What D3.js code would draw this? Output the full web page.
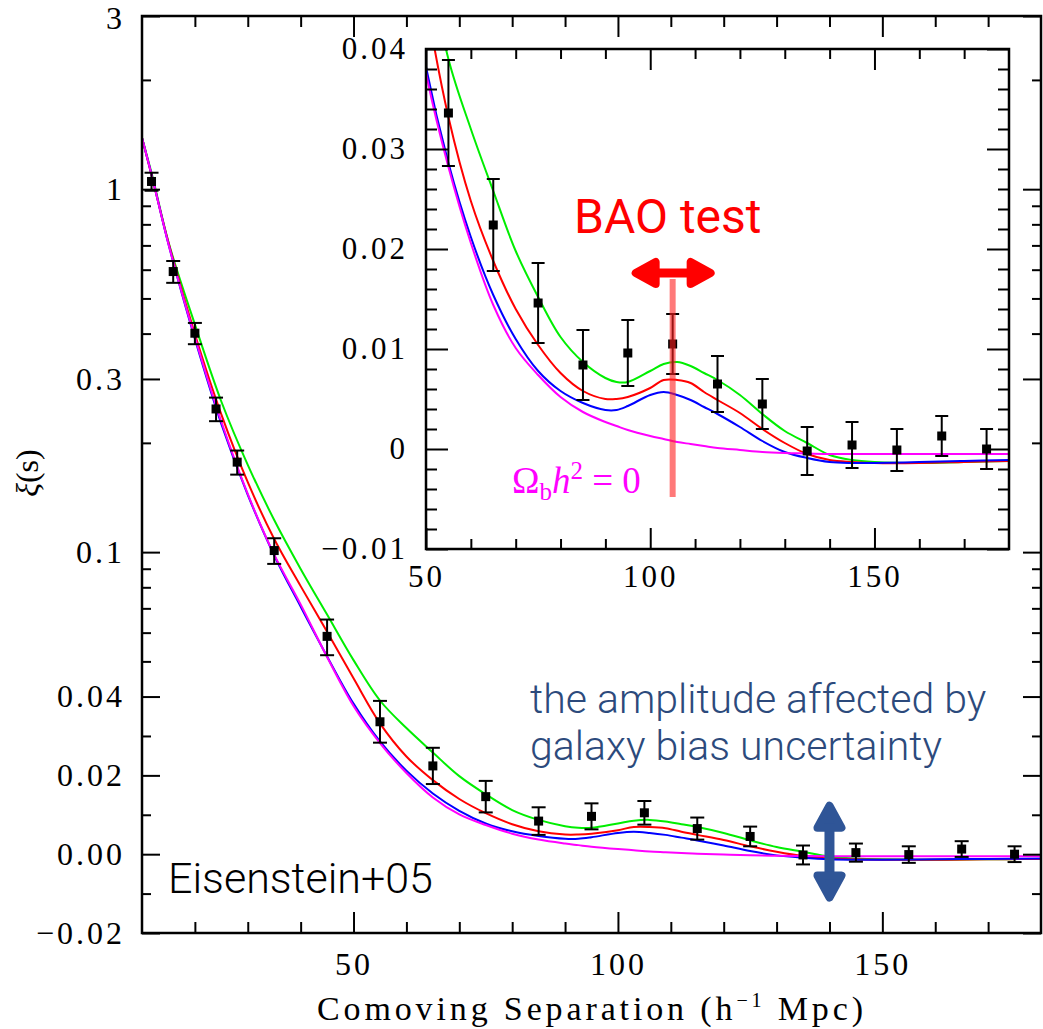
<!DOCTYPE html>
<html>
<head>
<meta charset="utf-8">
<script src="https://cdn.jsdelivr.net/npm/d3@7"></script>
<style>
  body { margin: 0; background: #fff; }
  svg { display: block; }
</style>
</head>
<body>
<div id="chart"></div>
<script>
// measured correlation function (bin centre, xi, 1-sigma error)
const sBins  = [11.8, 15.9, 20, 24, 28, 35, 45, 55, 65, 75, 85, 95, 105, 115, 125, 135, 145, 155, 165, 175];
const xiVals = [1.05, 0.593, 0.401, 0.248, 0.177, 0.101, 0.0586, 0.0336, 0.0224, 0.0146, 0.0084, 0.0096, 0.0105, 0.0065, 0.0045, -0.0002, 0.0004, -0.0001, 0.0013, 0.0];
const xiErr  = [0.06, 0.041, 0.027, 0.0185, 0.0135, 0.0082, 0.0066, 0.0053, 0.0046, 0.004, 0.0035, 0.0033, 0.003, 0.0028, 0.0025, 0.0024, 0.0023, 0.0021, 0.002, 0.002];

// model curves, all on the same separation grid
const modelS   = [10, 12, 15, 20, 25, 30, 35, 40, 45, 50, 55, 60, 65, 70, 75, 80, 85, 90, 92.5, 95, 100, 103, 106, 109, 112, 115, 120, 125, 130, 135, 140, 145, 150, 160, 170, 180];
const greenXi  = [1.385, 1.08, 0.715, 0.424, 0.26, 0.174, 0.1226, 0.0899, 0.0673, 0.0504, 0.039, 0.032, 0.0258, 0.0198, 0.0152, 0.0112, 0.0087, 0.0071, 0.0067, 0.0067, 0.0078, 0.0085, 0.0087, 0.0083, 0.0076, 0.0069, 0.0054, 0.0035, 0.0018, 0.0006, -0.0006, -0.0011, -0.0013, -0.0014, -0.0013, -0.0012];
const redXi    = [1.385, 1.065, 0.713, 0.399, 0.2396, 0.1558, 0.1087, 0.0806, 0.0603, 0.0449, 0.0332, 0.0248, 0.0188, 0.014, 0.0104, 0.0076, 0.0058, 0.005, 0.005, 0.0052, 0.0061, 0.0069, 0.0069, 0.0066, 0.0057, 0.0049, 0.0036, 0.002, 0.0006, -0.0005, -0.0011, -0.0013, -0.0014, -0.0014, -0.0013, -0.0012];
const blueXi   = [1.385, 1.069, 0.706, 0.387, 0.2256, 0.1439, 0.0979, 0.0708, 0.0516, 0.0382, 0.0286, 0.0212, 0.0154, 0.011, 0.0078, 0.0058, 0.0046, 0.0039, 0.0039, 0.0043, 0.0054, 0.0057, 0.0054, 0.0049, 0.0042, 0.0035, 0.0022, 0.0008, -0.0003, -0.0009, -0.0013, -0.0014, -0.0014, -0.0013, -0.0012, -0.0011];
const magentaXi= [1.385, 1.069, 0.706, 0.391, 0.229, 0.1446, 0.0984, 0.0718, 0.0514, 0.0376, 0.0282, 0.0206, 0.0144, 0.0101, 0.0074, 0.0052, 0.0037, 0.0027, 0.0023, 0.0019, 0.0013, 0.001, 0.0007, 0.0005, 0.0003, 0.0001, -0.0001, -0.0003, -0.0004, -0.00045, -0.0005, -0.0005, -0.0005, -0.0005, -0.0005, -0.0005];
const modelColors = ["#00ee00", "#ff0000", "#0000ff", "#ff00ff"];

// axis ticks
const xMainMajor = [50, 100, 150];
const xMainMinor = [20, 30, 40, 60, 70, 80, 90, 110, 120, 130, 140, 160, 170];
const yMainMajor = [3, 1, 0.3, 0.1, 0.04, 0.02, 0, -0.02];
const yMainLabels = ["3", "1", "0.3", "0.1", "0.04", "0.02", "0.00", "\u22120.02"];
const yMainMinor = [2, 0.9, 0.8, 0.7, 0.6, 0.5, 0.4, 0.2, 0.09, 0.08, 0.07, 0.06, 0.05, 0.03, 0.01, -0.01];
const xInMajor = [50, 100, 150];
const xInMinor = [60, 70, 80, 90, 110, 120, 130, 140, 160, 170];
const yInMajor = [-0.01, 0, 0.01, 0.02, 0.03, 0.04];
const yInLabels = ["\u22120.01", "0", "0.01", "0.02", "0.03", "0.04"];
const yInMinor = d3.range(-8, 40, 2).filter(d => d % 10 !== 0).map(d => d / 1000);

const W = 1043, H = 1029;
const main = {left: 142, right: 1041, top: 16, bottom: 933};
const inset = {left: 426, right: 1009, top: 49, bottom: 549};
const serif = "'Liberation Serif', 'Times New Roman', serif";
const sans = "Roboto, 'Liberation Sans', Arial, sans-serif";

const svg = d3.select("#chart").append("svg")
    .attr("width", W)
    .attr("height", H);

// main scales: linear below 0.04, logarithmic above
const fy = v => v <= 0.04 ? v / 0.04 : 1 + Math.log(v / 0.04);
const xMain = d3.scaleLinear().domain([10, 180]).range([main.left, main.right]);
const yLin = d3.scaleLinear().domain([fy(-0.02), fy(3)]).range([main.bottom, main.top]);
const yMain = v => yLin(fy(v));

const xIn = d3.scaleLinear().domain([50, 180]).range([inset.left, inset.right]);
const yIn = d3.scaleLinear().domain([-0.01, 0.04]).range([inset.bottom, inset.top]);

const defs = svg.append("defs");
defs.append("clipPath").attr("id", "clipMain").append("rect")
    .attr("x", main.left).attr("y", main.top)
    .attr("width", main.right - main.left).attr("height", main.bottom - main.top);
defs.append("clipPath").attr("id", "clipIn").append("rect")
    .attr("x", inset.left).attr("y", inset.top)
    .attr("width", inset.right - inset.left).attr("height", inset.bottom - inset.top);

function addAxis(gen, pos, values, size, fmt, pad, fontSize) {
    gen.tickValues(values).tickSize(-size).tickPadding(pad || 0).tickFormat(fmt || "");
    const g = svg.append("g").attr("transform", pos).call(gen);
    g.select(".domain").remove();
    g.selectAll("line").attr("stroke", "#000").attr("stroke-width", 2);
    g.attr("font-family", serif).attr("font-size", fontSize || 32);
    g.selectAll("text").attr("fill", "#000").style("letter-spacing", "3px");
    return g;
}

const points = sBins.map((s, i) => ({s: s, v: xiVals[i], e: xiErr[i]}));
const models = [greenXi, redXi, blueXi, magentaXi].map((arr, k) => ({
    color: modelColors[k],
    pts: modelS.map((s, i) => [s, arr[i]])
}));

function drawPanel(xs, ys, clipId, pts, capW) {
    const layer = svg.append("g").attr("clip-path", `url(#${clipId})`);
    const line = d3.line().x(d => xs(d[0])).y(d => ys(d[1])).curve(d3.curveCatmullRom.alpha(0.5));

    layer.selectAll(null)
        .data(models)
        .enter()
        .append("path")
        .attr("d", d => line(d.pts))
        .attr("fill", "none")
        .attr("stroke", d => d.color)
        .attr("stroke-width", 2);

    const err = layer.selectAll(null).data(pts).enter().append("g");
    err.append("line")
        .attr("x1", d => xs(d.s)).attr("x2", d => xs(d.s))
        .attr("y1", d => ys(d.v - d.e)).attr("y2", d => ys(d.v + d.e));
    err.append("line")
        .attr("x1", d => xs(d.s) - capW / 2).attr("x2", d => xs(d.s) + capW / 2)
        .attr("y1", d => ys(d.v + d.e)).attr("y2", d => ys(d.v + d.e));
    err.append("line")
        .attr("x1", d => xs(d.s) - capW / 2).attr("x2", d => xs(d.s) + capW / 2)
        .attr("y1", d => ys(d.v - d.e)).attr("y2", d => ys(d.v - d.e));
    err.selectAll("line").attr("stroke", "#000").attr("stroke-width", 2);

    layer.selectAll(null)
        .data(pts)
        .enter()
        .append("rect")
        .attr("x", d => xs(d.s) - 4.5)
        .attr("y", d => ys(d.v) - 4.5)
        .attr("width", 9)
        .attr("height", 9)
        .attr("fill", "#000");
}

// ---- main panel
drawPanel(xMain, yMain, "clipMain", points, 14);

addAxis(d3.axisBottom(xMain), `translate(0,${main.bottom})`, xMainMajor, 21, d => d, 19);
addAxis(d3.axisBottom(xMain), `translate(0,${main.bottom})`, xMainMinor, 11);
addAxis(d3.axisTop(xMain), `translate(0,${main.top})`, xMainMajor, 21);
addAxis(d3.axisTop(xMain), `translate(0,${main.top})`, xMainMinor, 11);
const yAx = addAxis(d3.axisLeft(yLin), `translate(${main.left},0)`, yMainMajor.map(fy), 18, (d, i) => yMainLabels[i], 17);
// keep the top label "3" inside the picture
yAx.selectAll("text").filter((d, i) => i === 0).attr("dy", "0.4em");
addAxis(d3.axisLeft(yLin), `translate(${main.left},0)`, yMainMinor.map(fy), 9);
addAxis(d3.axisRight(yLin), `translate(${main.right},0)`, yMainMajor.map(fy), 18);
addAxis(d3.axisRight(yLin), `translate(${main.right},0)`, yMainMinor.map(fy), 9);

svg.append("rect")
    .attr("x", main.left).attr("y", main.top)
    .attr("width", main.right - main.left).attr("height", main.bottom - main.top)
    .attr("fill", "none").attr("stroke", "#000").attr("stroke-width", 2.5);

// axis titles
const xt = svg.append("text")
    .attr("x", 590).attr("y", 1020)
    .attr("text-anchor", "middle")
    .attr("font-family", serif).attr("font-size", 34)
    .attr("textLength", 546).attr("lengthAdjust", "spacing");
xt.append("tspan").text("Comoving Separation (h");
xt.append("tspan").attr("dy", -13).attr("font-size", 20).text("\u22121");
xt.append("tspan").attr("dy", 13).text(" Mpc)");

const yt = svg.append("text")
    .attr("transform", "translate(38,473) rotate(-90)")
    .attr("text-anchor", "middle")
    .attr("font-family", serif).attr("font-size", 32);
yt.append("tspan").attr("font-style", "italic").text("\u03BE");
yt.append("tspan").text("(s)");

svg.append("text")
    .attr("x", 168).attr("y", 893)
    .attr("font-family", sans).attr("font-weight", 300).attr("font-size", 43)
    .attr("fill", "#000")
    .text("Eisenstein+05");

// bias annotation
const blue = "#2f5597";
svg.append("text")
    .attr("x", 530).attr("y", 713)
    .attr("font-family", sans).attr("font-weight", 300).attr("font-size", 41)
    .attr("fill", "#2c4a7c")
    .text("the amplitude affected by");
svg.append("text")
    .attr("x", 530).attr("y", 760)
    .attr("font-family", sans).attr("font-weight", 300).attr("font-size", 41)
    .attr("fill", "#2c4a7c")
    .text("galaxy bias uncertainty");

function doubleArrow(x1, y1, x2, y2, color, shaftW, headL, headW) {
    const g = svg.append("g");
    const ang = Math.atan2(y2 - y1, x2 - x1);
    const ux = Math.cos(ang), uy = Math.sin(ang);
    g.append("line")
        .attr("x1", x1 + ux * headL * 0.6).attr("y1", y1 + uy * headL * 0.6)
        .attr("x2", x2 - ux * headL * 0.6).attr("y2", y2 - uy * headL * 0.6)
        .attr("stroke", color).attr("stroke-width", shaftW);
    [[x1, y1, 1], [x2, y2, -1]].forEach(([tx, ty, dir]) => {
        const bx = tx + dir * ux * headL, by = ty + dir * uy * headL;
        const p = [[bx - uy * headW, by + ux * headW], [tx, ty], [bx + uy * headW, by - ux * headW]];
        g.append("path")
            .attr("d", "M" + p.map(q => q.join(",")).join("L") + "Z")
            .attr("fill", color).attr("stroke", color)
            .attr("stroke-width", 8)
            .attr("stroke-linejoin", "round").attr("stroke-linecap", "round");
    });
}
doubleArrow(xMain(140), yMain(0.0133) + 4, xMain(140), yMain(-0.012) - 4, blue, 10, 22, 12);

// ---- inset panel
svg.append("rect")
    .attr("x", inset.left).attr("y", inset.top)
    .attr("width", inset.right - inset.left).attr("height", inset.bottom - inset.top)
    .attr("fill", "#fff");

drawPanel(xIn, yIn, "clipIn", points.filter(d => d.s >= 50), 13);

addAxis(d3.axisBottom(xIn), `translate(0,${inset.bottom})`, xInMajor, 21, d => d, 16, 31);
addAxis(d3.axisBottom(xIn), `translate(0,${inset.bottom})`, xInMinor, 10);
addAxis(d3.axisTop(xIn), `translate(0,${inset.top})`, xInMajor, 21);
addAxis(d3.axisTop(xIn), `translate(0,${inset.top})`, xInMinor, 10);
addAxis(d3.axisLeft(yIn), `translate(${inset.left},0)`, yInMajor, 22, (d, i) => yInLabels[i], 18, 31);
addAxis(d3.axisLeft(yIn), `translate(${inset.left},0)`, yInMinor, 11);
addAxis(d3.axisRight(yIn), `translate(${inset.right},0)`, yInMajor, 22);
addAxis(d3.axisRight(yIn), `translate(${inset.right},0)`, yInMinor, 11);

svg.append("rect")
    .attr("x", inset.left).attr("y", inset.top)
    .attr("width", inset.right - inset.left).attr("height", inset.bottom - inset.top)
    .attr("fill", "none").attr("stroke", "#000").attr("stroke-width", 2.5);

// BAO annotation
svg.append("line")
    .attr("x1", xIn(105)).attr("x2", xIn(105))
    .attr("y1", yIn(0.017)).attr("y2", yIn(-0.0048))
    .attr("stroke", "#ff2020").attr("stroke-opacity", 0.6).attr("stroke-width", 6);
doubleArrow(xIn(105) - 37, yIn(0.0176), xIn(105) + 38, yIn(0.0176), "#ff0000", 9, 20, 11);

svg.append("text")
    .attr("x", 574).attr("y", 233)
    .attr("font-family", sans).attr("font-size", 48)
    .attr("fill", "#ff0000")
    .text("BAO test");

const om = svg.append("text")
    .attr("x", 512).attr("y", 493)
    .attr("font-family", serif).attr("font-size", 37)
    .attr("fill", "#ff00ff");
om.append("tspan").text("\u03A9");
om.append("tspan").attr("dy", 7).attr("font-size", 25).text("b");
om.append("tspan").attr("dy", -7).attr("font-style", "italic").text("h");
om.append("tspan").attr("dy", -14).attr("font-size", 25).text("2");
om.append("tspan").attr("dy", 14).text(" = 0");
</script>
</body>
</html>
